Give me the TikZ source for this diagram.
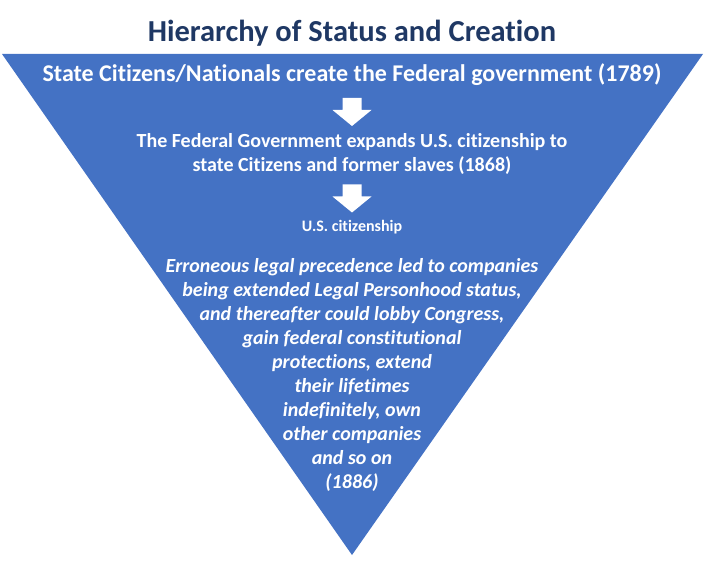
\documentclass[tikz,border=0pt]{standalone}
\usepackage{fontspec}
\setmainfont{Carlito}[Ligatures=NoCommon]
\definecolor{bleu}{HTML}{4472C4}
\definecolor{marine}{HTML}{1F3864}
\begin{document}
\begin{tikzpicture}[x=1pt,y=-1pt,
  fleche/.pic={\fill[white] (-9.5,-14) -- (9.5,-14) -- (9.5,-2) -- (19.5,-2)
    -- (0,14) -- (-19.5,-2) -- (-9.5,-2) -- cycle;},
  texte/.style={text=white,font=\bfseries,align=center,inner sep=0pt}]
  % Cadre
  \useasboundingbox (0,0) rectangle (705,561);

  % Titre
  \node[text=marine,font=\fontsize{30.5}{36}\selectfont\bfseries] (titre) at (352,33)
    {Hierarchy of Status and Creation};

  % Triangle inversé
  \fill[bleu] (2,54) -- (703,54) -- (352,555) -- cycle;

  % Niveaux
  \node[texte,font=\fontsize{24}{28}\selectfont\bfseries] (etat) at (352,75)
    {State Citizens/Nationals create the Federal government (1789)};
  \pic (f1) at (352,112) {fleche};
  \node[texte,font=\fontsize{20}{24}\selectfont\bfseries] (federal) at (352,154)
    {The Federal Government expands U.S. citizenship to\\
     state Citizens and former slaves (1868)};
  \pic (f2) at (352,198.5) {fleche};
  \node[texte,font=\fontsize{16}{19}\selectfont\bfseries] (citoyen) at (352,227)
    {U.S. citizenship};

  % Pointe du triangle
  \node[texte,font=\fontsize{20}{24}\selectfont\bfseries\itshape] (societes) at (352,374.5)
    {Erroneous legal precedence led to companies\\
     being extended Legal Personhood status,\\
     and thereafter could lobby Congress,\\
     gain federal constitutional\\
     protections, extend\\
     their lifetimes\\
     indefinitely, own\\
     other companies\\
     and so on\\
     (1886)};
\end{tikzpicture}
\end{document}
